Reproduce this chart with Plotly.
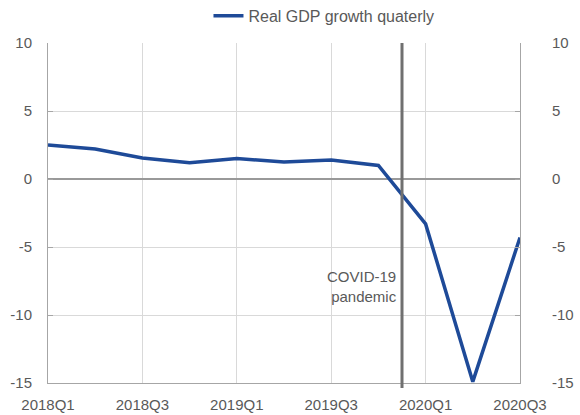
import plotly.graph_objects as go

quarters = ["2018Q1", "2018Q2", "2018Q3", "2018Q4", "2019Q1", "2019Q2",
            "2019Q3", "2019Q4", "2020Q1", "2020Q2", "2020Q3"]
gdp_growth = [2.5, 2.2, 1.55, 1.2, 1.5, 1.25, 1.4, 1.0, -3.3, -14.9, -4.3]
tick_idx = [0, 2, 4, 6, 8, 10]
tick_labels = [quarters[i] for i in tick_idx]
covid_pos = 7.5
y_ticks = [10, 5, 0, -5, -10, -15]
y_tick_labels = ["10", "5", "0", "-5", "-10", "-15"]

x_idx = list(range(len(quarters)))
grey = "#595959"
font = "Liberation Sans, Arial, sans-serif"
fs = 15

fig = go.Figure()
fig.add_trace(go.Scatter(
    x=x_idx, y=gdp_growth, mode="lines", name="Real GDP growth quaterly",
    line=dict(color="#1E4A98", width=3.5),
))
fig.add_trace(go.Scatter(
    x=x_idx, y=gdp_growth, mode="lines", yaxis="y2", showlegend=False,
    line=dict(color="rgba(0,0,0,0)", width=0), hoverinfo="skip",
))

fig.add_shape(type="line", xref="x", yref="paper", x0=covid_pos, x1=covid_pos,
              y0=-0.015, y1=1, line=dict(color="#707070", width=3), layer="above")
fig.add_annotation(x=covid_pos, xref="x", y=-7.9, yref="y", xanchor="right",
                   xshift=-3, text="COVID-19<br>pandemic", showarrow=False,
                   align="right", font=dict(family=font, size=15, color=grey))

fig.update_layout(
    width=580, height=415,
    margin=dict(l=48, r=60, t=43, b=32, autoexpand=False),
    paper_bgcolor="white", plot_bgcolor="white",
    font=dict(family=font, size=fs, color=grey),
    showlegend=True,
    legend=dict(orientation="h", x=0.34, xanchor="left", y=1.03, yanchor="bottom",
                font=dict(family=font, size=16, color=grey),
                bgcolor="rgba(0,0,0,0)", itemwidth=30),
    xaxis=dict(range=[0, 10], tickvals=tick_idx, ticktext=tick_labels,
               showgrid=True, gridcolor="#D9D9D9", gridwidth=1,
               showline=True, linecolor="#A6A6A6", linewidth=1,
               ticks="", zeroline=False, fixedrange=True, automargin=False,
               tickfont=dict(size=fs, color=grey), ticklabelstandoff=8),
    yaxis=dict(range=[-15, 10], tickvals=y_ticks, ticktext=y_tick_labels,
               showgrid=True, automargin=False,
               gridcolor="#D9D9D9", gridwidth=1, zeroline=True,
               zerolinecolor="#999999", zerolinewidth=1.5,
               showline=True, linecolor="#A6A6A6", linewidth=1,
               ticks="inside", ticklen=5, tickcolor="#A6A6A6",
               tickfont=dict(size=fs, color=grey), ticklabelstandoff=12),
    yaxis2=dict(range=[-15, 10], tickvals=y_ticks, ticktext=y_tick_labels,
                overlaying="y", side="right", automargin=False,
                showgrid=False, zeroline=False,
                showline=True, linecolor="#A6A6A6", linewidth=1,
                ticks="inside", ticklen=5, tickcolor="#A6A6A6",
                tickfont=dict(size=fs, color=grey), ticklabelstandoff=28),
)

fig.write_html(
    "out.html",
    config={"displayModeBar": False, "staticPlot": True},
    post_script="document.body.style.margin='0';document.body.style.overflow='hidden';",
)
